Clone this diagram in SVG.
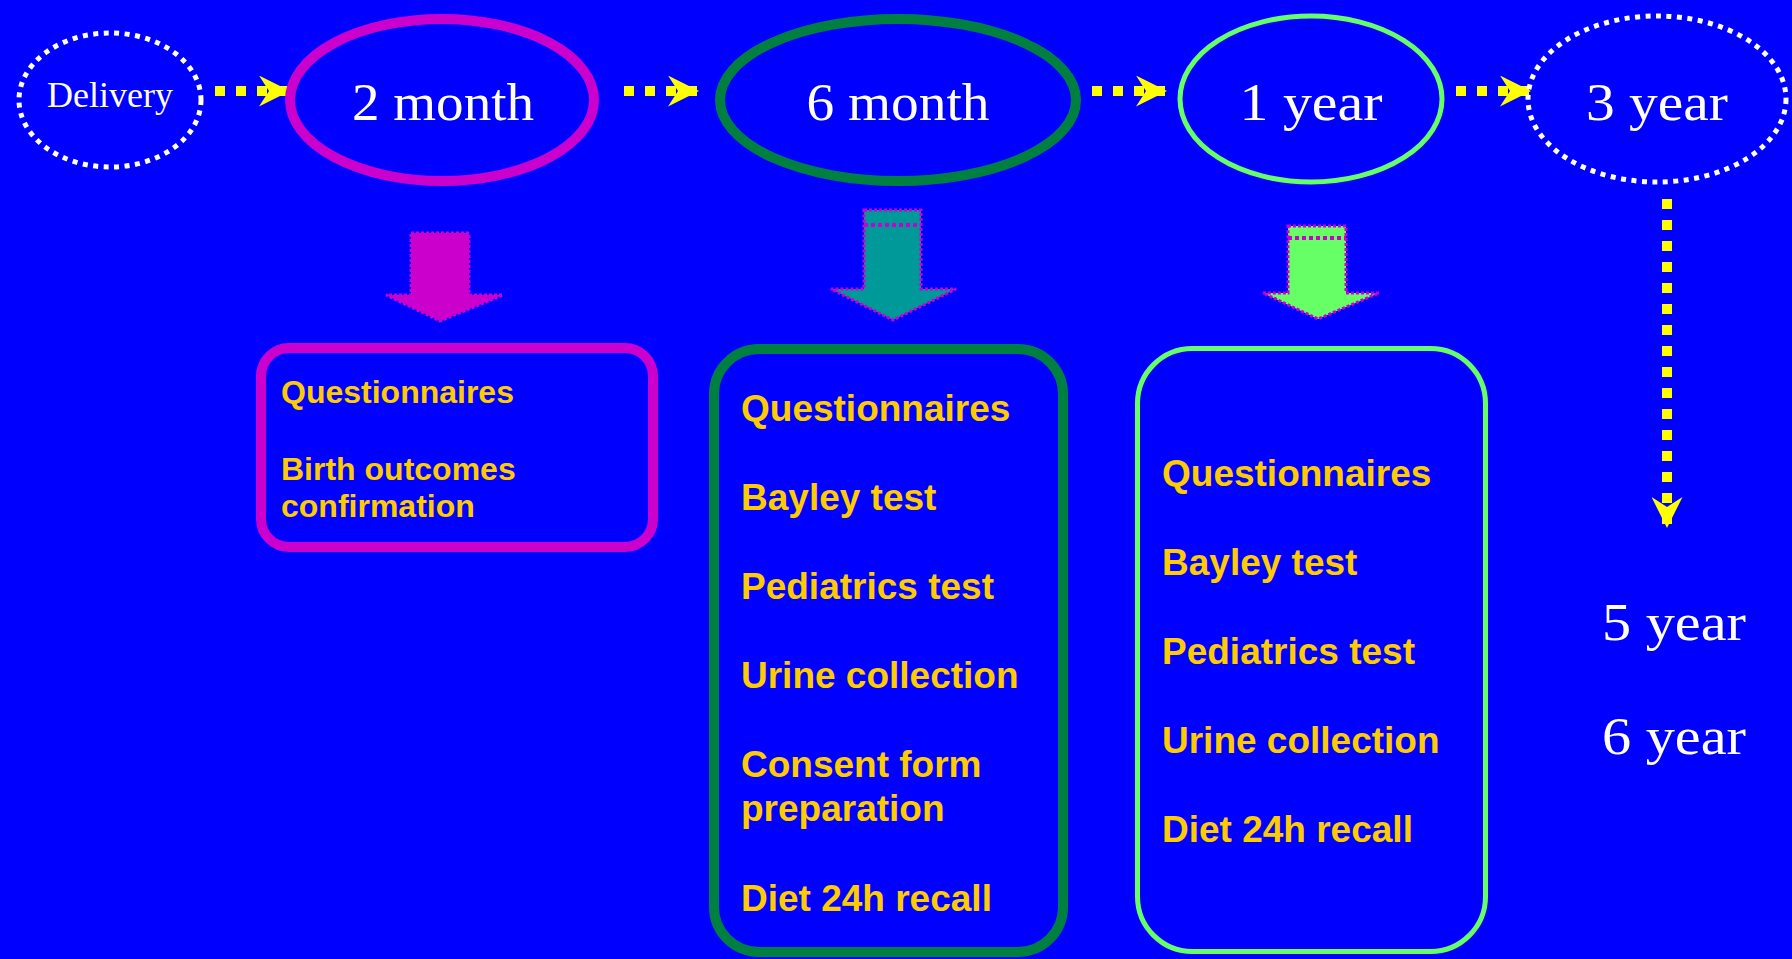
<svg xmlns="http://www.w3.org/2000/svg" width="1792" height="959" viewBox="0 0 1792 959">
<defs>
<style>
.bg{fill:#0000FF}
.lbl{font-family:"Liberation Serif","Times New Roman",serif;font-size:52px;fill:#FFFFFF;text-anchor:middle}
.lbl2{font-family:"Liberation Serif","Times New Roman",serif;font-size:52px;fill:#FFFFFF}
.dot{fill:none;stroke:#FFFFFF;stroke-width:5;stroke-dasharray:5 5.5}
.item{font-family:"Liberation Sans",Arial,sans-serif;font-weight:bold;fill:#FFCC00}
.f32{font-size:32px}
.f37{font-size:37px}
.flow{fill:none;stroke:#FFFF00;stroke-width:10;stroke-dasharray:10 11}
.blk{stroke:#CC00CC;stroke-width:3;stroke-dasharray:3 2}
.stripe{fill:none;stroke:#CC00CC;stroke-width:4;stroke-dasharray:4 3}
</style>
<marker id="ah" viewBox="0 0 31 31" refX="31" refY="15.5" markerWidth="31" markerHeight="31" markerUnits="userSpaceOnUse" orient="auto">
<path d="M0,0 L31,15.5 L0,31 L10,15.5 Z" fill="#FFFF00"/>
</marker>
</defs>
<rect class="bg" x="0" y="0" width="1792" height="959"/>

<g id="connectors">
<line class="flow" x1="215" y1="91" x2="290" y2="91" marker-end="url(#ah)"/>
<line class="flow" x1="624" y1="91" x2="699" y2="91" marker-end="url(#ah)"/>
<line class="flow" x1="1092" y1="91" x2="1167" y2="91" marker-end="url(#ah)"/>
<line class="flow" x1="1456" y1="91" x2="1531" y2="91" marker-end="url(#ah)"/>
<line class="flow" x1="1667" y1="199" x2="1667" y2="528" marker-end="url(#ah)"/>
<g id="down-2month">
<polygon class="blk" fill="#CC00CC" points="411,233 469,233 469,295 503,295 440,321 386,295 411,295"/>
</g>
<g id="down-6month">
<polygon class="blk" fill="#009999" points="864,210 921,210 921,289 956,289 893,320 831,289 864,289"/>
<line class="stripe" x1="864" y1="225" x2="921" y2="225"/>
</g>
<g id="down-1year">
<polygon class="blk" fill="#66FF66" points="1288,226 1346,226 1346,293 1379,293 1318,319 1263,293 1288,293"/>
<line class="stripe" x1="1288" y1="238" x2="1346" y2="238"/>
</g>
</g>

<g id="delivery">
<ellipse class="dot" cx="110" cy="100" rx="91" ry="67"/>
<text x="110" y="107" font-family="Liberation Serif, Times New Roman, serif" font-size="36" fill="#FFFFFF" text-anchor="middle" textLength="126" lengthAdjust="spacingAndGlyphs">Delivery</text>
</g>

<g id="m2">
<ellipse cx="442" cy="100" rx="152" ry="81" fill="none" stroke="#CC00CC" stroke-width="10"/>
<text class="lbl" x="443" y="120" textLength="182" lengthAdjust="spacingAndGlyphs">2 month</text>
</g>

<g id="m6">
<ellipse cx="898" cy="100" rx="178" ry="81" fill="none" stroke="#008040" stroke-width="10"/>
<text class="lbl" x="898" y="120" textLength="183" lengthAdjust="spacingAndGlyphs">6 month</text>
</g>

<g id="y1">
<ellipse cx="1311" cy="99" rx="131" ry="83" fill="none" stroke="#66FF66" stroke-width="5"/>
<text class="lbl" x="1311" y="120" textLength="143" lengthAdjust="spacingAndGlyphs">1 year</text>
</g>

<g id="y3">
<ellipse class="dot" cx="1657" cy="99" rx="129" ry="83"/>
<text class="lbl" x="1657" y="120" textLength="142" lengthAdjust="spacingAndGlyphs">3 year</text>
</g>

<g id="box-2month">
<rect x="261" y="348" width="392" height="199" rx="28" fill="none" stroke="#CC00CC" stroke-width="10"/>
<text class="item f32" x="281" y="403">Questionnaires</text>
<text class="item f32" x="281" y="480">Birth outcomes</text>
<text class="item f32" x="281" y="517">confirmation</text>
</g>

<g id="box-6month">
<rect x="714" y="349" width="349" height="603" rx="45" fill="none" stroke="#008040" stroke-width="10"/>
<text class="item f37" x="741" y="421">Questionnaires</text>
<text class="item f37" x="741" y="510">Bayley test</text>
<text class="item f37" x="741" y="599">Pediatrics test</text>
<text class="item f37" x="741" y="688">Urine collection</text>
<text class="item f37" x="741" y="777">Consent form</text>
<text class="item f37" x="741" y="821">preparation</text>
<text class="item f37" x="741" y="911">Diet 24h recall</text>
</g>

<g id="box-1year">
<rect x="1137.5" y="348.5" width="348" height="603" rx="55" fill="none" stroke="#66FF66" stroke-width="5"/>
<text class="item f37" x="1162" y="486">Questionnaires</text>
<text class="item f37" x="1162" y="575">Bayley test</text>
<text class="item f37" x="1162" y="664">Pediatrics test</text>
<text class="item f37" x="1162" y="753">Urine collection</text>
<text class="item f37" x="1162" y="842">Diet 24h recall</text>
</g>

<g id="y5">
<text class="lbl2" x="1602" y="640" textLength="144" lengthAdjust="spacingAndGlyphs">5 year</text>
</g>
<g id="y6">
<text class="lbl2" x="1602" y="754" textLength="144" lengthAdjust="spacingAndGlyphs">6 year</text>
</g>
</svg>
